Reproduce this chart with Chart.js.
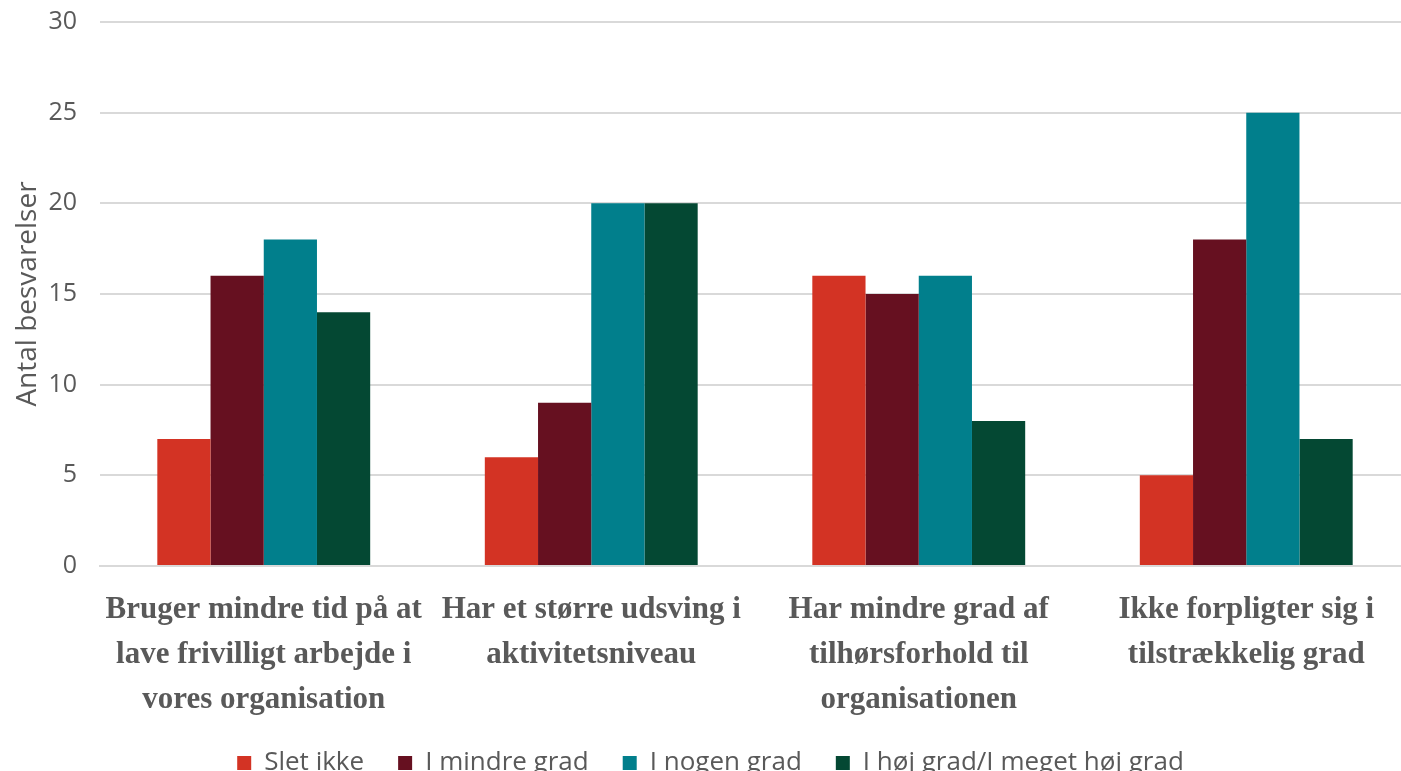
<!DOCTYPE html>
<html>
<head>
<meta charset="utf-8">
<script src="https://cdn.jsdelivr.net/npm/chart.js@4"></script>
<style>
  html, body { margin: 0; padding: 0; background: #fff; overflow: hidden; }
  #wrap { width: 1410px; height: 786px; }
</style>
</head>
<body>
<div id="wrap"><canvas id="grafico"></canvas></div>
<script>
const kategorier = [
    ['Bruger mindre tid på at', 'lave frivilligt arbejde i', 'vores organisation'],
    ['Har et større udsving i', 'aktivitetsniveau'],
    ['Har mindre grad af', 'tilhørsforhold til', 'organisationen'],
    ['Ikke forpligter sig i', 'tilstrækkelig grad']
];
const serieNavne = ['Slet ikke', 'I mindre grad', 'I nogen grad', 'I høj grad/I meget høj grad'];
const sletIkke = [7, 6, 16, 5];
const iMindreGrad = [16, 9, 15, 18];
const iNogenGrad = [18, 20, 16, 25];
const iHoejGrad = [14, 20, 8, 7];
const farver = ['#D33324', '#661020', '#017F8C', '#044833'];
const yTicks = [0, 5, 10, 15, 20, 25, 30];

const serier = [sletIkke, iMindreGrad, iNogenGrad, iHoejGrad];
const sans = "'Open Sans', 'Lato', sans-serif";

document.addEventListener("DOMContentLoaded", function() {
    const ctx = document.getElementById('grafico').getContext('2d');
    new Chart(ctx, {
        type: 'bar',
        data: {
            labels: kategorier,
            datasets: serier.map((data, i) => ({
                label: serieNavne[i],
                data: data,
                backgroundColor: farver[i],
                borderWidth: 0,
                categoryPercentage: 0.65,
                barPercentage: 1.0
            }))
        },
        options: {
            responsive: true,
            maintainAspectRatio: false,
            animation: false,
            layout: { padding: { left: 11, right: 0, top: 22, bottom: 0 } },
            plugins: {
                tooltip: { enabled: false },
                legend: {
                    position: 'bottom',
                    labels: {
                        color: '#595959',
                        font: { family: sans, size: 26 },
                        boxWidth: 14,
                        boxHeight: 14,
                        padding: 34
                    }
                }
            },
            scales: {
                x: {
                    grid: { display: false },
                    border: { color: '#d9d9d9', width: 2 },
                    afterFit: axis => { axis.height = 150; },
                    ticks: {
                        color: '#595959',
                        maxRotation: 0,
                        autoSkip: false,
                        padding: 14,
                        font: { family: "'Liberation Serif', 'DejaVu Serif', serif", size: 31, weight: 'bold', lineHeight: 1.45 }
                    }
                },
                y: {
                    min: 0,
                    max: 30,
                    afterBuildTicks: axis => { axis.ticks = yTicks.map(v => ({ value: v })); },
                    afterFit: axis => {
                        axis.width = 89;
                        axis.paddingTop = 0;
                        axis.paddingBottom = 0;
                    },
                    grid: { color: '#d9d9d9', lineWidth: 2, drawTicks: false },
                    border: { display: false },
                    ticks: {
                        color: '#595959',
                        padding: 23,
                        font: { family: sans, size: 25 }
                    },
                    title: {
                        display: true,
                        text: 'Antal besvarelser',
                        color: '#595959',
                        padding: { top: 0, bottom: 4 },
                        font: { family: sans, size: 28 }
                    }
                }
            }
        }
    });
});
</script>
</body>
</html>
